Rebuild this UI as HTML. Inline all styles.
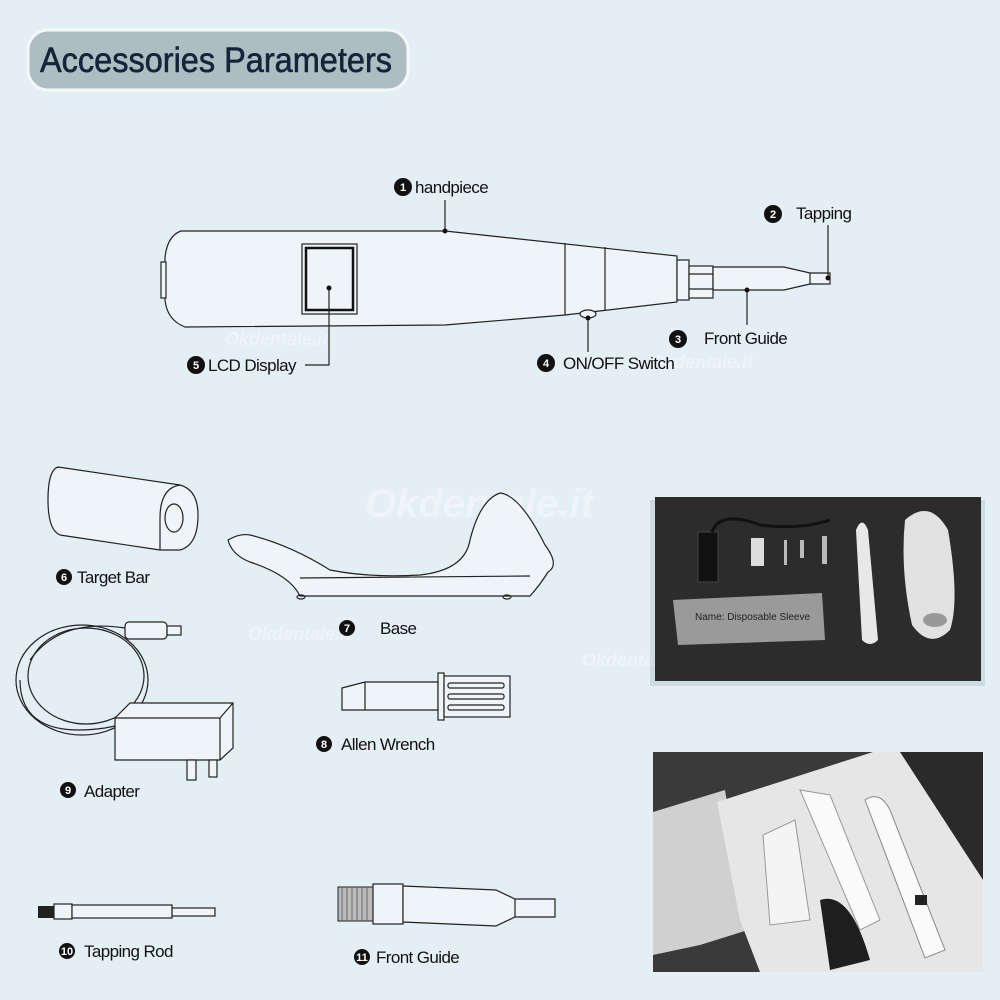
<!DOCTYPE html>
<html><head><meta charset="utf-8"><style>
html,body{margin:0;padding:0;background:#e3eef5;}
svg{display:block;font-family:"Liberation Sans",sans-serif;}
.t{font-size:17px;fill:#111;letter-spacing:-0.6px;}
.n{font-size:11px;fill:#fff;font-weight:bold;text-anchor:middle;}
.l{fill:none;stroke:#222;stroke-width:1.2;}
.f{fill:#eef4f8;stroke:#222;stroke-width:1.2;}
</style></head><body>
<svg width="1000" height="1000" viewBox="0 0 1000 1000">
<rect width="1000" height="1000" fill="#e3eef5"/>
<rect x="28" y="30" width="380" height="60" rx="20" fill="#aebdc2" stroke="#f4f8fa" stroke-width="3"/>
<text x="40" y="72" font-size="35" fill="#16233a" stroke="#16233a" stroke-width="0.6" textLength="352" lengthAdjust="spacingAndGlyphs">Accessories Parameters</text>

<g font-style="italic" font-weight="bold" fill="#ffffff" opacity="0.4">
<text x="365" y="517" font-size="40">Okdentale.it</text>
<text x="225" y="345" font-size="18">Okdentale.it</text>
<text x="248" y="640" font-size="18">Okdentale.it</text>
<text x="582" y="666" font-size="18">Okdentale.it</text>
<text x="650" y="368" font-size="18">Okdentale.it</text>
</g>

<path class="f" d="M181 231 L445 231 L677 256 L677 302 L565 315 L445 325 L185 327 Q167 320 165 300 L165 258 Q167 236 181 231 Z"/>
<rect x="161" y="262" width="5" height="36" class="f"/>
<line class="l" x1="565" y1="243" x2="565" y2="315"/>
<line class="l" x1="605" y1="247" x2="605" y2="311"/>
<rect x="677" y="260" width="12" height="40" class="f"/>
<rect x="689" y="266" width="24" height="32" class="f"/>
<line class="l" x1="689" y1="274" x2="713" y2="274"/><line class="l" x1="689" y1="289" x2="713" y2="289"/>
<path class="f" d="M713 267 L784 267 L810 273 L830 273 L830 284 L810 284 L784 290 L713 290 Z"/>
<line class="l" x1="810" y1="273" x2="810" y2="284"/>
<rect x="302" y="244" width="55" height="70" class="f"/>
<rect x="306" y="248" width="47" height="62" fill="none" stroke="#111" stroke-width="2.5"/>
<ellipse cx="588" cy="314" rx="8" ry="4" class="f"/>
<g class="l">
<polyline points="329,288 329,365 305,365"/>
<line x1="445" y1="200" x2="445" y2="231"/>
<line x1="828" y1="225" x2="828" y2="278"/>
<line x1="747" y1="290" x2="747" y2="325"/>
<line x1="588" y1="318" x2="588" y2="352"/>
</g>
<g fill="#111"><circle cx="445" cy="231" r="2.5"/><circle cx="329" cy="288" r="2.5"/><circle cx="828" cy="278" r="2.5"/><circle cx="747" cy="290" r="2.5"/><circle cx="588" cy="318" r="2.5"/></g>

<g>
<circle cx="403" cy="187" r="9" fill="#111"/><text class="n" x="403" y="191">1</text><text class="t" x="415" y="193">handpiece</text>
<circle cx="773" cy="214" r="9" fill="#111"/><text class="n" x="773" y="218">2</text><text class="t" x="796" y="219">Tapping</text>
<circle cx="678" cy="339" r="9" fill="#111"/><text class="n" x="678" y="343">3</text><text class="t" x="704" y="344">Front Guide</text>
<circle cx="546" cy="363" r="9" fill="#111"/><text class="n" x="546" y="367">4</text><text class="t" x="563" y="369">ON/OFF Switch</text>
<circle cx="196" cy="365" r="9" fill="#111"/><text class="n" x="196" y="369">5</text><text class="t" x="208" y="371">LCD Display</text>
</g>

<path class="f" d="M58 467 L180 485 Q198 490 198 515 Q198 545 180 550 L160 550 L60 535 Q48 530 48 500 Q48 470 58 467 Z"/>
<path class="l" d="M180 485 Q160 488 160 518 Q160 548 160 550"/>
<ellipse cx="174" cy="518" rx="9" ry="14" class="l"/>
<circle cx="64" cy="577" r="8" fill="#111"/><text class="n" x="64" y="581">6</text><text class="t" x="77" y="583">Target Bar</text>

<path class="f" d="M228 540 Q240 533 250 535 Q290 545 330 570 Q370 578 420 575 Q465 570 470 540 Q480 500 500 493 Q520 495 545 545 Q560 565 548 572 Q540 585 530 596 L300 596 Q290 575 250 562 Q232 555 228 540 Z"/>
<path class="l" d="M300 578 L530 576"/>
<ellipse cx="301" cy="597" rx="4" ry="2" class="l"/><ellipse cx="507" cy="597" rx="4" ry="2" class="l"/>
<circle cx="347" cy="628" r="8" fill="#111"/><text class="n" x="347" y="632">7</text><text class="t" x="380" y="634">Base</text>

<g class="l">
<ellipse cx="82" cy="680" rx="66" ry="55"/>
<ellipse cx="86" cy="676" rx="58" ry="48"/>
<path d="M125 628 Q60 618 30 660"/>
<path d="M120 725 L105 728 Q20 740 20 680"/>
</g>
<rect x="125" y="622" width="42" height="17" rx="4" class="f"/><rect x="167" y="626" width="14" height="9" class="f"/>
<path class="f" d="M115 718 L130 703 L233 703 L233 748 L220 760 L115 760 Z"/>
<line class="l" x1="220" y1="718" x2="220" y2="760"/><line class="l" x1="115" y1="718" x2="220" y2="718"/><line class="l" x1="220" y1="718" x2="233" y2="703"/>
<rect x="187" y="760" width="9" height="20" class="f"/><rect x="209" y="760" width="8" height="17" class="f"/>
<circle cx="68" cy="790" r="8" fill="#111"/><text class="n" x="68" y="794">9</text><text class="t" x="84" y="797">Adapter</text>

<path class="f" d="M342 688 L365 682 L438 682 L438 710 L365 710 L342 710 Z"/>
<line class="l" x1="365" y1="682" x2="365" y2="710"/>
<rect x="438" y="673" width="6" height="47" class="f"/>
<rect x="444" y="676" width="66" height="41" class="f"/>
<rect x="448" y="683" width="56" height="5" rx="2" class="l"/><rect x="448" y="694" width="56" height="5" rx="2" class="l"/><rect x="448" y="705" width="56" height="5" rx="2" class="l"/>
<circle cx="324" cy="744" r="8" fill="#111"/><text class="n" x="324" y="748">8</text><text class="t" x="341" y="750">Allen Wrench</text>

<rect x="38" y="906" width="16" height="12" fill="#222"/>
<rect x="54" y="904" width="18" height="15" class="f"/>
<rect x="72" y="905" width="100" height="13" class="f"/>
<rect x="172" y="908" width="43" height="8" class="f"/>
<circle cx="67" cy="951" r="8" fill="#111"/><text class="n" x="67" y="955" font-size="10">10</text><text class="t" x="84" y="957">Tapping Rod</text>

<rect x="338" y="887" width="35" height="34" fill="#bbb" stroke="#222"/>
<g stroke="#555" stroke-width="0.8"><line x1="342" y1="887" x2="342" y2="921"/><line x1="347" y1="887" x2="347" y2="921"/><line x1="352" y1="887" x2="352" y2="921"/><line x1="357" y1="887" x2="357" y2="921"/><line x1="362" y1="887" x2="362" y2="921"/><line x1="367" y1="887" x2="367" y2="921"/></g>
<rect x="373" y="884" width="30" height="40" class="f"/>
<path class="f" d="M403 886 L496 890 L515 899 L555 899 L555 917 L515 917 L496 926 L403 922 Z"/>
<line class="l" x1="515" y1="899" x2="515" y2="917"/>
<circle cx="362" cy="957" r="8" fill="#111"/><text class="n" x="362" y="961" font-size="10">11</text><text class="t" x="376" y="963">Front Guide</text>

<rect x="650" y="500" width="335" height="186" fill="#b9c6cf" opacity="0.5"/>
<rect x="655" y="497" width="326" height="184" fill="#2c2c2c"/>
<rect x="698" y="532" width="20" height="50" fill="#111" stroke="#444"/>
<path d="M712 532 Q720 510 760 525 Q800 530 830 520" stroke="#111" stroke-width="3" fill="none"/>
<rect x="751" y="538" width="13" height="28" fill="#ddd"/>
<rect x="784" y="540" width="3" height="25" fill="#bbb"/><rect x="800" y="540" width="4" height="18" fill="#bbb"/><rect x="822" y="536" width="5" height="28" fill="#bbb"/>
<path d="M673 600 L822 593 L825 640 L678 645 Z" fill="#9a9a9a"/>
<text x="695" y="620" font-size="10" fill="#222">Name: Disposable Sleeve</text>
<path d="M856 530 Q862 515 868 530 L878 640 Q870 648 862 640 Z" fill="#e8e8e8"/>
<path d="M905 520 Q930 498 948 530 Q960 600 950 630 Q930 650 912 625 Q900 570 905 520 Z" fill="#e2e2e2"/>
<ellipse cx="935" cy="620" rx="12" ry="7" fill="#999"/>

<rect x="653" y="752" width="330" height="220" fill="#3a3a3a"/>
<path d="M653 812 L725 790 L748 930 L700 945 L653 955 Z" fill="#d0d0d0"/>
<path d="M717 802 L873 752 L983 752 L983 972 L760 972 L740 920 Z" fill="#e6e6e6"/>
<path d="M900 752 L983 752 L983 880 Z" fill="#2a2a2a"/>
<path d="M795 820 L810 920 L770 925 L763 835 Z" fill="#f4f4f4" stroke="#999"/>
<path d="M800 790 L830 795 L880 920 L860 930 Z" fill="#fafafa" stroke="#999"/>
<path d="M865 800 Q880 790 890 810 L945 950 L925 958 Z" fill="#fafafa" stroke="#888"/>
<rect x="915" y="895" width="12" height="10" fill="#222"/>
<path d="M820 900 Q850 890 870 960 L830 970 Z" fill="#1e1e1e"/>
</svg>
</body></html>
